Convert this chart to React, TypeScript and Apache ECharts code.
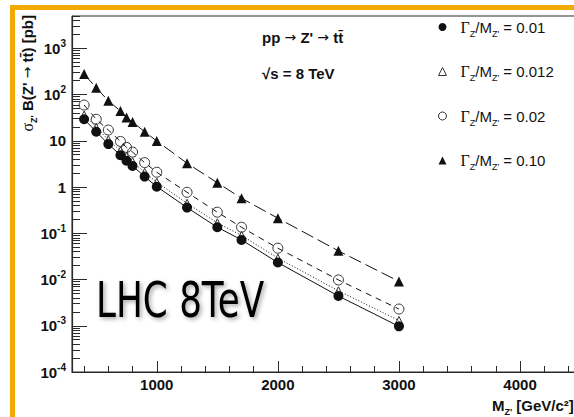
import React, { useEffect, useRef } from 'react';
import * as echarts from 'echarts';

// Z' masses [GeV/c^2] at which the cross sections are evaluated
const massPoints = [400, 500, 600, 700, 750, 800, 900, 1000, 1250, 1500, 1700, 2000, 2500, 3000];

// sigma x BR(Z' -> ttbar) [pb] for each relative width
const xsWidth001 = [29.2, 15.7, 8.5, 4.9, 3.7, 2.86, 1.68, 1.02, 0.36, 0.135, 0.072, 0.0233, 0.0044, 0.00097];
const xsWidth0012 = [36, 19.5, 10.6, 6.1, 4.6, 3.55, 2.08, 1.27, 0.445, 0.168, 0.09, 0.029, 0.0057, 0.0013];
const xsWidth002 = [59.4, 29.2, 17.1, 9.7, 7.2, 5.7, 3.37, 2.09, 0.77, 0.286, 0.135, 0.0476, 0.0098, 0.0023];
const xsWidth010 = [277, 140, 73.5, 44, 32, 25.5, 15.7, 9.9, 3.27, 1.24, 0.573, 0.212, 0.0417, 0.0091];

const widthNames = ['0.01', '0.012', '0.02', '0.10'];

const xMajorTicks = [1000, 2000, 3000, 4000];
const xMinorTicks = [400, 600, 800, 1200, 1400, 1600, 1800, 2200, 2400, 2600, 2800, 3200, 3400, 3600, 3800, 4200, 4400];
const yMajorTicks = [1e-4, 1e-3, 1e-2, 1e-1, 1, 10, 100, 1000];
const yMinorMultipliers = [2, 3, 4, 5, 6, 7, 8, 9];

const X_MIN = 300;
const X_MAX = 4500;
const Y_MIN = 1e-4;
const Y_MAX = 5000;

const SANS = "'Liberation Sans', Arial, Helvetica, sans-serif";
const SERIF = "'Liberation Serif', 'Times New Roman', serif";
const SYMBOL = "'DejaVu Sans', sans-serif";
const INK = '#111';
const FRAME = '#2a2a2a';
const ORANGE = '#F0AA00';

const yMinorTicks: number[] = [];
yMajorTicks.forEach((d) => {
  yMinorMultipliers.forEach((k) => {
    const v = Number((k * d).toPrecision(3));
    if (v <= Y_MAX) yMinorTicks.push(v);
  });
});

function decadeLabel(v: number): string {
  const e = Math.round(Math.log10(v));
  if (e === 0) return '1';
  if (e === 1) return '10';
  return `{b|10}{s|${e}}`;
}

function toPairs(values: number[]) {
  return massPoints.map((m, i) => [m, values[i]]);
}

const HOLLOW = 'rgba(0,0,0,0)';

function buildOption() {
  const lineSeries = (
    name: string,
    values: number[],
    symbol: string,
    symbolSize: number,
    dash: any,
    itemStyle: any,
    z: number
  ) => ({
    type: 'line',
    name,
    data: toPairs(values),
    symbol,
    symbolSize,
    showSymbol: true,
    z,
    lineStyle: { color: INK, width: 1, type: dash },
    itemStyle,
    emphasis: { disabled: true },
  });

  const arrowStyle = { fontFamily: SYMBOL, fontSize: 14, fill: INK, lineHeight: 22 };

  return {
    animation: false,
    backgroundColor: '#fff',
    grid: {
      left: 72,
      top: 16,
      width: 508.6,
      height: 356,
      show: true,
      borderColor: FRAME,
      borderWidth: 1,
      outerBoundsMode: 'none',
    },
    xAxis: [
      {
        type: 'value',
        min: X_MIN,
        max: X_MAX,
        position: 'bottom',
        axisLine: { show: true, onZero: false, lineStyle: { color: FRAME, width: 1.2 } },
        axisTick: { show: true, inside: true, length: 11, customValues: xMajorTicks, lineStyle: { color: FRAME, width: 1 } },
        axisLabel: {
          show: true,
          customValues: xMajorTicks,
          margin: 5,
          formatter: (v: number) => String(v),
          fontFamily: SANS,
          fontWeight: 'bold',
          fontSize: 15,
          color: INK,
        },
        splitLine: { show: false },
      },
      {
        type: 'value',
        min: X_MIN,
        max: X_MAX,
        position: 'bottom',
        axisLine: { show: false, onZero: false },
        axisTick: { show: true, inside: true, length: 6, customValues: xMinorTicks, lineStyle: { color: FRAME, width: 1 } },
        axisLabel: { show: false },
        splitLine: { show: false },
      },
    ],
    yAxis: [
      {
        type: 'log',
        min: Y_MIN,
        max: Y_MAX,
        position: 'left',
        axisLine: { show: true, onZero: false, lineStyle: { color: FRAME, width: 1.2 } },
        axisTick: { show: true, inside: true, length: 15, customValues: yMajorTicks, lineStyle: { color: FRAME, width: 1 } },
        axisLabel: {
          show: true,
          customValues: yMajorTicks,
          margin: 6,
          formatter: (v: number) => decadeLabel(v),
          fontFamily: SANS,
          fontWeight: 'bold',
          fontSize: 15,
          color: INK,
          rich: {
            b: { fontFamily: SANS, fontWeight: 'bold', fontSize: 15, color: INK, lineHeight: 20 },
            s: { fontFamily: SANS, fontWeight: 'bold', fontSize: 10, color: INK, lineHeight: 11, verticalAlign: 'top' },
          },
        },
        splitLine: { show: false },
      },
      {
        type: 'log',
        min: Y_MIN,
        max: Y_MAX,
        position: 'left',
        axisLine: { show: false, onZero: false },
        axisTick: { show: true, inside: true, length: 8, customValues: yMinorTicks, lineStyle: { color: FRAME, width: 1 } },
        axisLabel: { show: false },
        splitLine: { show: false },
      },
    ],
    legend: {
      orient: 'vertical',
      left: 438,
      top: 19,
      padding: 0,
      itemWidth: 8,
      itemHeight: 8,
      itemGap: 25.5,
      selectedMode: false,
      formatter: (name: string) => `{g|Γ}{s|Z}{n|/M}{s|Z'}{n| = ${name}}`,
      textStyle: {
        color: INK,
        rich: {
          g: { fontFamily: SERIF, fontSize: 16, color: INK, lineHeight: 22, padding: [0, 0, 0, 9] },
          n: { fontFamily: SANS, fontSize: 15, color: INK, lineHeight: 22 },
          s: { fontFamily: SANS, fontSize: 9, color: INK, lineHeight: 11, verticalAlign: 'bottom' },
        },
      },
      data: [
        { name: widthNames[0], icon: 'circle', itemStyle: { color: INK, borderWidth: 0 } },
        { name: widthNames[1], icon: 'triangle', itemStyle: { color: '#fff', borderColor: '#333', borderWidth: 1 } },
        { name: widthNames[2], icon: 'circle', itemStyle: { color: '#fff', borderColor: '#333', borderWidth: 1 } },
        { name: widthNames[3], icon: 'triangle', itemStyle: { color: INK, borderWidth: 0 } },
      ],
    },
    series: [
      lineSeries(widthNames[0], xsWidth001, 'circle', 10, 'solid', { color: INK, borderWidth: 0 }, 5),
      lineSeries(widthNames[1], xsWidth0012, 'triangle', 8, [1, 2], { color: HOLLOW, borderColor: '#333', borderWidth: 1 }, 3),
      lineSeries(widthNames[2], xsWidth002, 'circle', 10, [6, 5], { color: HOLLOW, borderColor: '#333', borderWidth: 1 }, 4),
      lineSeries(widthNames[3], xsWidth010, 'triangle', 10, [13, 5], { color: INK, borderWidth: 0 }, 4),
    ],
    graphic: [
      { type: 'rect', silent: true, shape: { x: 10, y: 5, width: 564, height: 5 }, style: { fill: ORANGE } },
      { type: 'rect', silent: true, shape: { x: 10, y: 5, width: 5, height: 412 }, style: { fill: ORANGE } },
      {
        type: 'text',
        x: 262,
        y: 37,
        style: {
          text: "{b|pp }{a|\u2192}{b| Z' }{a|\u2192}{b| tt\u0304}",
          align: 'left',
          verticalAlign: 'middle',
          rich: {
            b: { fontFamily: SANS, fontWeight: 'bold', fontSize: 15, fill: INK, lineHeight: 22 },
            a: arrowStyle,
          },
        },
      },
      {
        type: 'text',
        x: 262,
        y: 73,
        style: {
          text: '\u221As = 8 TeV',
          fontFamily: SANS,
          fontWeight: 'bold',
          fontSize: 15,
          fill: INK,
          align: 'left',
          verticalAlign: 'middle',
        },
      },
      {
        type: 'text',
        x: 27,
        y: 15,
        rotation: Math.PI / 2,
        style: {
          text: "{g|\u03C3}{s|Z'}{b| B(Z' }{a|\u2192}{b| tt\u0304) [pb]}",
          align: 'right',
          verticalAlign: 'middle',
          rich: {
            g: { fontFamily: SERIF, fontSize: 16, fill: INK, lineHeight: 22 },
            b: { fontFamily: SANS, fontWeight: 'bold', fontSize: 15, fill: INK, lineHeight: 22 },
            a: arrowStyle,
            s: { fontFamily: SANS, fontWeight: 'bold', fontSize: 9, fill: INK, lineHeight: 11, verticalAlign: 'bottom' },
          },
        },
      },
      {
        type: 'text',
        x: 492,
        y: 405,
        style: {
          text: "{b|M}{s|Z'}{b| [GeV/c\u00B2]}",
          align: 'left',
          verticalAlign: 'middle',
          rich: {
            b: { fontFamily: SANS, fontWeight: 'bold', fontSize: 15, fill: INK, lineHeight: 22 },
            s: { fontFamily: SANS, fontWeight: 'bold', fontSize: 9, fill: INK, lineHeight: 11, verticalAlign: 'bottom' },
          },
        },
      },
      {
        type: 'text',
        x: 96,
        y: 300,
        scaleX: 0.73,
        style: {
          text: 'LHC 8TeV',
          fontFamily: "'DejaVu Sans', sans-serif",
          fontSize: 49,
          fill: '#000',
          align: 'left',
          verticalAlign: 'middle',
          textShadowColor: 'rgba(0,0,0,0.35)',
          textShadowBlur: 4,
          textShadowOffsetX: 2,
          textShadowOffsetY: 2,
        },
      },
    ],
  };
}

export default function App() {
  const ref = useRef<HTMLDivElement>(null);

  useEffect(() => {
    if (!ref.current) return;
    const chart = echarts.init(ref.current, null, { renderer: 'svg' });
    chart.setOption(buildOption() as any);
    return () => {
      chart.dispose();
    };
  }, []);

  return (
    <div
      ref={ref}
      style={{ position: 'absolute', left: 0, top: 0, width: 574, height: 417, background: '#fff' }}
    />
  );
}
